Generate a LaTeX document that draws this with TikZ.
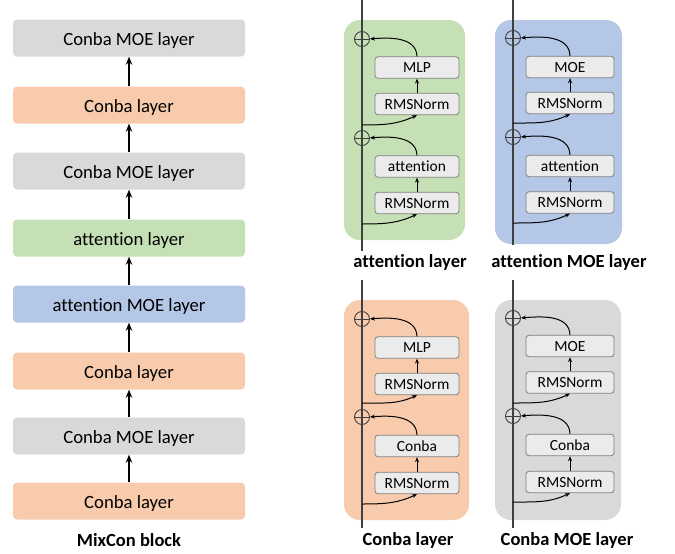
\documentclass[tikz,border=0pt]{standalone}
\usepackage{fontspec}
\setmainfont[Ligatures={NoCommon}]{Carlito}
\usetikzlibrary{arrows.meta}

\definecolor{lgray}{HTML}{D9D9D9}
\definecolor{lorange}{HTML}{F8CBAD}
\definecolor{lgreen}{HTML}{C5E0B4}
\definecolor{lblue}{HTML}{B4C7E7}
\definecolor{boxfill}{HTML}{EBEBEB}
\definecolor{boxline}{HTML}{808080}
\definecolor{trunk}{HTML}{404040}

\tikzset{
  layerbox/.style={rounded corners=4pt, minimum width=232pt, minimum height=37pt,
    inner sep=0pt, text height=15pt, text depth=0pt,
    font=\fontsize{18.7}{20}\selectfont},
  panelbg/.style={rounded corners=16pt},
  inbox/.style={draw=boxline, fill=boxfill, rounded corners=3pt, line width=0.8pt,
    minimum height=21.5pt, inner sep=0pt, text height=10pt, text depth=0pt,
    font=\fontsize{15.5}{17}\selectfont},
  addop/.style={circle, draw=trunk, line width=0.9pt, minimum size=15pt, inner sep=0pt,
    path picture={\draw[trunk, line width=0.9pt]
      (path picture bounding box.west) -- (path picture bounding box.east);}},
  trunkline/.style={trunk, line width=1.3pt},
  flow/.style={black, line width=1.8pt, -{Stealth[length=8pt,width=6.5pt]}},
  thinflow/.style={black, line width=1pt, -{Stealth[length=5pt,width=4pt]}},
  caption/.style={font=\bfseries\fontsize{18.5}{20}\selectfont, inner sep=0pt}
}

% one residual unit: add node, function box, norm box, skip branch
% #1 prefix, #2 trunk x, #3 box centre x, #4 box width, #5 add y,
% #6 function box y, #7 function text, #8 norm box y, #9 skip y
\newcommand\resunit[9]{%
  \node[addop] (#1c) at (#2,#5) {};
  \node[inbox, minimum width=#4] (#1f) at (#3,#6) {#7};
  \node[inbox, minimum width=#4] (#1n) at (#3,#8) {RMSNorm};
  \coordinate (#1s) at (#2,#9);
  \draw[thinflow] (#1n) -- (#1f);
  \draw[thinflow] (#1f.north) to[out=92,in=5] (#1c.east);
  \draw[thinflow] (#1s) to[out=0,in=205] (#1n.south);
}

\begin{document}
\begin{tikzpicture}[x=1pt,y=-1pt]
\useasboundingbox (0,0) rectangle (675,554);

% ---------- MixCon block ----------
\node[layerbox, fill=lgray]   (b8) at (129,38)  {Conba MOE layer};
\node[layerbox, fill=lorange] (b7) at (129,105) {Conba layer};
\node[layerbox, fill=lgray]   (b6) at (129,171) {Conba MOE layer};
\node[layerbox, fill=lgreen]  (b5) at (129,238) {attention layer};
\node[layerbox, fill=lblue]   (b4) at (129,304) {attention MOE layer};
\node[layerbox, fill=lorange] (b3) at (129,371) {Conba layer};
\node[layerbox, fill=lgray]   (b2) at (129,436) {Conba MOE layer};
\node[layerbox, fill=lorange] (b1) at (129,501) {Conba layer};
\foreach \lo/\hi in {b1/b2,b2/b3,b3/b4,b4/b5,b5/b6,b6/b7,b7/b8}
  \draw[flow] (\lo.north) -- (\hi.south);
\node[caption] (capmix) at (129,540) {MixCon block};

% ---------- attention layer ----------
\fill[lgreen, panelbg] (344,20) rectangle (465,240);
\coordinate (gtop) at (362,0);
\coordinate (gbot) at (362,251);
\draw[trunkline] (gtop) -- (gbot);
\resunit{ga}{362}{417}{84pt}{39}{67.5}{MLP}{104}{125}
\resunit{gb}{362}{417}{84pt}{138}{166.5}{attention}{203}{224}
\node[caption] (capg) at (410,262) {attention layer};

% ---------- attention MOE layer ----------
\fill[lblue, panelbg] (495,20) rectangle (622,244);
\coordinate (btop) at (513,0);
\coordinate (bbot) at (513,245);
\draw[trunkline] (btop) -- (bbot);
\resunit{ba}{513}{570}{88pt}{38}{67}{MOE}{103}{123}
\resunit{bb}{513}{570}{88pt}{137}{166}{attention}{202.5}{223}
\node[caption] (capb) at (569,262) {attention MOE layer};

% ---------- Conba layer ----------
\fill[lorange, panelbg] (344,300) rectangle (469,520);
\coordinate (otop) at (362,280);
\coordinate (obot) at (362,528);
\draw[trunkline] (otop) -- (obot);
\resunit{oa}{362}{417}{84pt}{319}{347.5}{MLP}{384}{403}
\resunit{ob}{362}{417}{84pt}{417}{446}{Conba}{483}{504}
\node[caption] (capo) at (408,540) {Conba layer};

% ---------- Conba MOE layer ----------
\fill[lgray, panelbg] (495,300) rectangle (621,520);
\coordinate (ytop) at (513,280);
\coordinate (ybot) at (513,528);
\draw[trunkline] (ytop) -- (ybot);
\resunit{ya}{513}{570}{88pt}{318}{346}{MOE}{382.5}{403}
\resunit{yb}{513}{570}{88pt}{416}{445}{Conba}{482}{502}
\node[caption] (capy) at (567,540) {Conba MOE layer};
\end{tikzpicture}
\end{document}
